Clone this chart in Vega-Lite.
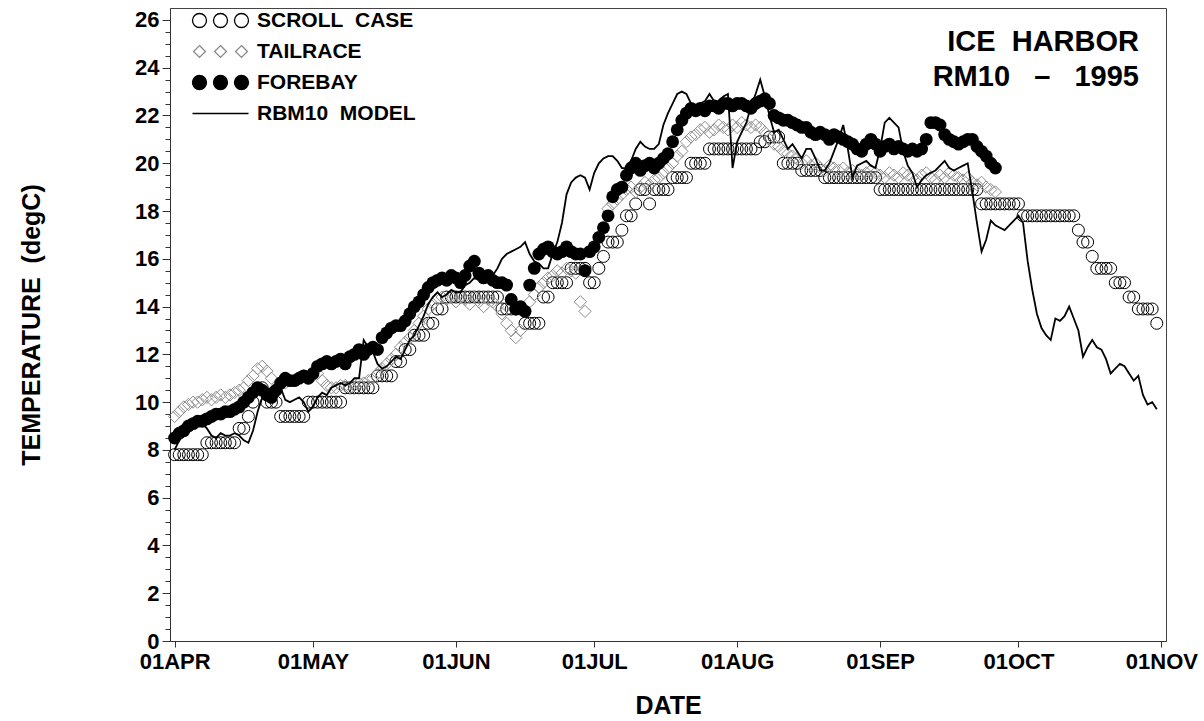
{
  "$schema": "https://vega.github.io/schema/vega-lite/v6.json",
  "autosize": "none",
  "width": 996,
  "height": 633,
  "padding": {"left": 170, "top": 8, "right": 38, "bottom": 80},
  "background": "white",
  "title": {
    "text": ["ICE\u00a0\u00a0HARBOR", "RM10\u00a0\u00a0\u00a0–\u00a0\u00a0\u00a01995"],
    "orient": "top",
    "anchor": "end",
    "frame": "group",
    "baseline": "top",
    "offset": -84,
    "dx": -27,
    "font": "Liberation Sans, Arial, sans-serif",
    "fontSize": 29,
    "fontWeight": "bold",
    "color": "black",
    "lineHeight": 35
  },
  "config": {
    "view": {"stroke": "#444", "strokeWidth": 1},
    "axis": {
      "labelFont": "Liberation Sans, Arial, sans-serif",
      "labelFontWeight": "bold",
      "labelColor": "black",
      "titleFont": "Liberation Sans, Arial, sans-serif",
      "titleFontWeight": "bold",
      "titleColor": "black",
      "domainColor": "#333",
      "tickColor": "#333",
      "grid": false
    },
    "legend": {
      "orient": "none",
      "legendX": 40,
      "legendY": 2,
      "padding": 0,
      "labelFont": "Liberation Sans, Arial, sans-serif",
      "labelFontWeight": "bold",
      "labelFontSize": 21,
      "labelColor": "black",
      "symbolSize": 196,
      "symbolStrokeWidth": 1.3,
      "labelOffset": 26,
      "rowPadding": 9,
      "labelLimit": 400
    }
  },
  "data": {"values": [
    {"date":"1995-04-01","sc":7.8,"tr":9.4,"fb":8.5,"md":8.0},
    {"date":"1995-04-02","sc":7.8,"tr":9.6,"fb":8.7,"md":8.4},
    {"date":"1995-04-03","sc":7.8,"tr":9.8,"fb":8.8,"md":8.7},
    {"date":"1995-04-04","sc":7.8,"tr":9.9,"fb":9.0,"md":8.9},
    {"date":"1995-04-05","sc":7.8,"tr":10.0,"fb":9.1,"md":9.0},
    {"date":"1995-04-06","sc":7.8,"tr":10.0,"fb":9.2,"md":9.1},
    {"date":"1995-04-07","sc":7.8,"tr":10.1,"fb":9.2,"md":9.1},
    {"date":"1995-04-08","sc":8.3,"tr":10.2,"fb":9.3,"md":8.9},
    {"date":"1995-04-09","sc":8.3,"tr":10.1,"fb":9.4,"md":8.6},
    {"date":"1995-04-10","sc":8.3,"tr":10.2,"fb":9.5,"md":8.5},
    {"date":"1995-04-11","sc":8.3,"tr":10.3,"fb":9.5,"md":8.7},
    {"date":"1995-04-12","sc":8.3,"tr":10.2,"fb":9.6,"md":8.6},
    {"date":"1995-04-13","sc":8.3,"tr":10.3,"fb":9.6,"md":8.6},
    {"date":"1995-04-14","sc":8.3,"tr":10.4,"fb":9.7,"md":8.7},
    {"date":"1995-04-15","sc":8.9,"tr":10.5,"fb":9.8,"md":8.6},
    {"date":"1995-04-16","sc":8.9,"tr":10.6,"fb":10.0,"md":8.4},
    {"date":"1995-04-17","sc":9.4,"tr":10.9,"fb":10.2,"md":8.3},
    {"date":"1995-04-18","sc":10.0,"tr":11.1,"fb":10.4,"md":8.8},
    {"date":"1995-04-19","sc":10.6,"tr":11.4,"fb":10.6,"md":9.6},
    {"date":"1995-04-20","sc":10.6,"tr":11.5,"fb":10.5,"md":10.2},
    {"date":"1995-04-21","sc":10.0,"tr":11.3,"fb":10.3,"md":10.5},
    {"date":"1995-04-22","sc":10.0,"tr":11.0,"fb":10.2,"md":10.6},
    {"date":"1995-04-23","sc":10.0,"tr":10.6,"fb":10.5,"md":10.4},
    {"date":"1995-04-24","sc":9.4,"tr":10.7,"fb":10.8,"md":10.6},
    {"date":"1995-04-25","sc":9.4,"tr":10.8,"fb":11.0,"md":10.1},
    {"date":"1995-04-26","sc":9.4,"tr":10.9,"fb":10.9,"md":10.0},
    {"date":"1995-04-27","sc":9.4,"tr":10.9,"fb":10.9,"md":10.1},
    {"date":"1995-04-28","sc":9.4,"tr":11.0,"fb":11.0,"md":10.2},
    {"date":"1995-04-29","sc":9.4,"tr":11.1,"fb":11.1,"md":10.0},
    {"date":"1995-04-30","sc":10.0,"tr":11.0,"fb":11.0,"md":9.6},
    {"date":"1995-05-01","sc":10.0,"tr":11.1,"fb":11.2,"md":9.8},
    {"date":"1995-05-02","sc":10.0,"tr":11.2,"fb":11.5,"md":10.2},
    {"date":"1995-05-03","sc":10.0,"tr":10.9,"fb":11.6,"md":10.4},
    {"date":"1995-05-04","sc":10.0,"tr":10.7,"fb":11.7,"md":10.3},
    {"date":"1995-05-05","sc":10.0,"tr":10.6,"fb":11.6,"md":10.6},
    {"date":"1995-05-06","sc":10.0,"tr":10.6,"fb":11.7,"md":10.7},
    {"date":"1995-05-07","sc":10.0,"tr":10.7,"fb":11.8,"md":10.8},
    {"date":"1995-05-08","sc":10.6,"tr":10.7,"fb":11.6,"md":10.7},
    {"date":"1995-05-09","sc":10.6,"tr":10.6,"fb":11.9,"md":10.8},
    {"date":"1995-05-10","sc":10.6,"tr":10.7,"fb":12.0,"md":11.0},
    {"date":"1995-05-11","sc":10.6,"tr":10.8,"fb":12.2,"md":11.0},
    {"date":"1995-05-12","sc":10.6,"tr":10.8,"fb":12.0,"md":12.6},
    {"date":"1995-05-13","sc":10.6,"tr":10.9,"fb":12.2,"md":12.3},
    {"date":"1995-05-14","sc":10.6,"tr":11.0,"fb":12.3,"md":12.1},
    {"date":"1995-05-15","sc":11.1,"tr":11.2,"fb":12.2,"md":11.6},
    {"date":"1995-05-16","sc":11.1,"tr":11.4,"fb":12.7,"md":11.4},
    {"date":"1995-05-17","sc":11.1,"tr":11.6,"fb":12.9,"md":11.5},
    {"date":"1995-05-18","sc":11.1,"tr":11.8,"fb":13.1,"md":11.7},
    {"date":"1995-05-19","sc":11.7,"tr":12.0,"fb":13.2,"md":11.9},
    {"date":"1995-05-20","sc":11.7,"tr":12.3,"fb":13.2,"md":11.8},
    {"date":"1995-05-21","sc":12.2,"tr":12.5,"fb":13.4,"md":12.2},
    {"date":"1995-05-22","sc":12.2,"tr":12.7,"fb":13.7,"md":12.6},
    {"date":"1995-05-23","sc":12.8,"tr":13.0,"fb":14.0,"md":12.8},
    {"date":"1995-05-24","sc":12.8,"tr":13.3,"fb":14.2,"md":13.2},
    {"date":"1995-05-25","sc":12.8,"tr":13.6,"fb":14.5,"md":13.6},
    {"date":"1995-05-26","sc":13.3,"tr":13.9,"fb":14.8,"md":14.1},
    {"date":"1995-05-27","sc":13.3,"tr":14.1,"fb":15.0,"md":14.4},
    {"date":"1995-05-28","sc":13.9,"tr":14.3,"fb":15.1,"md":14.6},
    {"date":"1995-05-29","sc":13.9,"tr":14.4,"fb":15.2,"md":14.4},
    {"date":"1995-05-30","sc":14.4,"tr":14.3,"fb":15.1,"md":14.5},
    {"date":"1995-05-31","sc":14.4,"tr":14.4,"fb":15.3,"md":14.7},
    {"date":"1995-06-01","sc":14.4,"tr":14.2,"fb":15.2,"md":14.6},
    {"date":"1995-06-02","sc":14.4,"tr":14.4,"fb":15.0,"md":14.6},
    {"date":"1995-06-03","sc":14.4,"tr":14.3,"fb":15.3,"md":14.9},
    {"date":"1995-06-04","sc":14.4,"tr":14.1,"fb":15.7,"md":15.0},
    {"date":"1995-06-05","sc":14.4,"tr":14.4,"fb":15.9,"md":15.2},
    {"date":"1995-06-06","sc":14.4,"tr":14.2,"fb":15.4,"md":15.1},
    {"date":"1995-06-07","sc":14.4,"tr":14.0,"fb":15.2,"md":15.2},
    {"date":"1995-06-08","sc":14.4,"tr":14.3,"fb":15.3,"md":15.1},
    {"date":"1995-06-09","sc":14.4,"tr":14.2,"fb":15.1,"md":15.3},
    {"date":"1995-06-10","sc":14.4,"tr":14.0,"fb":15.0,"md":15.6},
    {"date":"1995-06-11","sc":13.9,"tr":13.7,"fb":15.0,"md":16.0},
    {"date":"1995-06-12","sc":13.9,"tr":13.3,"fb":14.9,"md":16.2},
    {"date":"1995-06-13","sc":13.9,"tr":13.0,"fb":14.3,"md":16.3},
    {"date":"1995-06-14","sc":13.9,"tr":12.7,"fb":13.9,"md":16.4},
    {"date":"1995-06-15","sc":13.9,"tr":13.0,"fb":14.0,"md":16.5},
    {"date":"1995-06-16","sc":13.3,"tr":13.8,"fb":13.8,"md":16.7},
    {"date":"1995-06-17","sc":13.3,"tr":14.2,"fb":14.9,"md":16.2},
    {"date":"1995-06-18","sc":13.3,"tr":14.5,"fb":15.6,"md":15.9},
    {"date":"1995-06-19","sc":13.3,"tr":14.8,"fb":16.2,"md":15.8},
    {"date":"1995-06-20","sc":14.4,"tr":15.0,"fb":16.4,"md":15.6},
    {"date":"1995-06-21","sc":14.4,"tr":15.2,"fb":16.5,"md":15.6},
    {"date":"1995-06-22","sc":15.0,"tr":15.3,"fb":16.3,"md":16.2},
    {"date":"1995-06-23","sc":15.0,"tr":15.5,"fb":16.2,"md":16.7},
    {"date":"1995-06-24","sc":15.0,"tr":15.4,"fb":16.3,"md":17.5},
    {"date":"1995-06-25","sc":15.0,"tr":15.6,"fb":16.5,"md":18.7},
    {"date":"1995-06-26","sc":15.6,"tr":15.5,"fb":16.3,"md":19.2},
    {"date":"1995-06-27","sc":15.6,"tr":15.4,"fb":16.2,"md":19.4},
    {"date":"1995-06-28","sc":15.6,"tr":14.2,"fb":16.2,"md":19.5},
    {"date":"1995-06-29","sc":15.6,"tr":13.8,"fb":15.5,"md":19.4},
    {"date":"1995-06-30","sc":15.0,"fb":16.3,"md":18.9},
    {"date":"1995-07-01","sc":15.0,"fb":16.5,"md":19.6},
    {"date":"1995-07-02","sc":15.6,"fb":16.9,"md":20.0},
    {"date":"1995-07-03","sc":16.1,"fb":17.3,"md":20.2},
    {"date":"1995-07-04","sc":16.7,"tr":18.1,"fb":17.8,"md":20.3},
    {"date":"1995-07-05","sc":16.7,"tr":18.3,"fb":18.6,"md":20.3},
    {"date":"1995-07-06","sc":16.7,"tr":18.5,"fb":18.9,"md":20.1},
    {"date":"1995-07-07","sc":17.2,"tr":18.7,"fb":19.0,"md":19.8},
    {"date":"1995-07-08","sc":17.8,"tr":18.9,"fb":19.5,"md":19.8},
    {"date":"1995-07-09","sc":17.8,"tr":19.0,"fb":19.8,"md":20.1},
    {"date":"1995-07-10","sc":18.3,"tr":18.8,"fb":20.0,"md":20.6},
    {"date":"1995-07-11","sc":18.9,"tr":19.0,"fb":19.7,"md":20.9},
    {"date":"1995-07-12","sc":18.9,"tr":19.2,"fb":19.9,"md":20.7},
    {"date":"1995-07-13","sc":18.3,"tr":19.1,"fb":20.0,"md":20.6},
    {"date":"1995-07-14","sc":18.9,"tr":19.3,"fb":19.8,"md":20.6},
    {"date":"1995-07-15","sc":18.9,"tr":19.4,"fb":20.0,"md":20.8},
    {"date":"1995-07-16","sc":18.9,"tr":19.6,"fb":20.2,"md":21.6},
    {"date":"1995-07-17","sc":18.9,"tr":19.8,"fb":20.4,"md":22.1},
    {"date":"1995-07-18","sc":19.4,"tr":20.0,"fb":20.9,"md":22.5},
    {"date":"1995-07-19","sc":19.4,"tr":20.3,"fb":21.4,"md":22.9},
    {"date":"1995-07-20","sc":19.4,"tr":20.5,"fb":21.8,"md":23.0},
    {"date":"1995-07-21","sc":19.4,"tr":20.9,"fb":22.1,"md":22.9},
    {"date":"1995-07-22","sc":20.0,"tr":21.1,"fb":22.3,"md":22.5},
    {"date":"1995-07-23","sc":20.0,"tr":21.2,"fb":22.2,"md":22.4},
    {"date":"1995-07-24","sc":20.0,"tr":21.4,"fb":22.3,"md":22.5},
    {"date":"1995-07-25","sc":20.0,"tr":21.5,"fb":22.2,"md":22.6},
    {"date":"1995-07-26","sc":20.6,"tr":21.3,"fb":22.4,"md":22.9},
    {"date":"1995-07-27","sc":20.6,"tr":21.4,"fb":22.4,"md":22.6},
    {"date":"1995-07-28","sc":20.6,"tr":21.6,"fb":22.3,"md":22.6},
    {"date":"1995-07-29","sc":20.6,"tr":21.5,"fb":22.5,"md":22.8},
    {"date":"1995-07-30","sc":20.6,"tr":21.4,"fb":22.5,"md":22.9},
    {"date":"1995-07-31","sc":20.6,"tr":21.6,"fb":22.4,"md":19.8},
    {"date":"1995-08-01","sc":20.6,"tr":21.5,"fb":22.5,"md":20.9},
    {"date":"1995-08-02","sc":20.6,"tr":21.7,"fb":22.5,"md":21.3},
    {"date":"1995-08-03","sc":20.6,"tr":21.6,"fb":22.4,"md":21.7},
    {"date":"1995-08-04","sc":20.6,"tr":21.5,"fb":22.3,"md":22.4},
    {"date":"1995-08-05","sc":20.6,"tr":21.6,"fb":22.5,"md":22.9},
    {"date":"1995-08-06","sc":20.9,"tr":21.5,"fb":22.6,"md":23.5},
    {"date":"1995-08-07","sc":20.9,"tr":21.3,"fb":22.7,"md":22.8},
    {"date":"1995-08-08","sc":21.1,"tr":21.0,"fb":22.5,"md":22.0},
    {"date":"1995-08-09","sc":21.1,"tr":20.8,"fb":22.0,"md":21.3},
    {"date":"1995-08-10","sc":21.1,"tr":20.7,"fb":21.9,"md":21.4},
    {"date":"1995-08-11","sc":20.0,"tr":20.5,"fb":21.8,"md":21.0},
    {"date":"1995-08-12","sc":20.0,"tr":20.4,"fb":21.8,"md":20.6},
    {"date":"1995-08-13","sc":20.0,"tr":20.3,"fb":21.7,"md":20.8},
    {"date":"1995-08-14","sc":20.0,"tr":20.2,"fb":21.6,"md":20.5},
    {"date":"1995-08-15","sc":19.7,"tr":20.0,"fb":21.5,"md":20.2},
    {"date":"1995-08-16","sc":19.7,"tr":20.1,"fb":21.5,"md":20.6},
    {"date":"1995-08-17","sc":19.7,"tr":19.9,"fb":21.3,"md":20.6},
    {"date":"1995-08-18","sc":19.7,"tr":20.0,"fb":21.2,"md":20.2},
    {"date":"1995-08-19","sc":19.7,"tr":19.8,"fb":21.3,"md":19.7},
    {"date":"1995-08-20","sc":19.4,"tr":19.7,"fb":21.2,"md":19.7},
    {"date":"1995-08-21","sc":19.4,"tr":19.9,"fb":21.0,"md":20.0},
    {"date":"1995-08-22","sc":19.4,"tr":19.8,"fb":21.2,"md":20.5},
    {"date":"1995-08-23","sc":19.4,"tr":19.7,"fb":21.1,"md":21.0},
    {"date":"1995-08-24","sc":19.4,"tr":19.8,"fb":21.0,"md":21.6},
    {"date":"1995-08-25","sc":19.4,"tr":19.6,"fb":20.9,"md":20.6},
    {"date":"1995-08-26","sc":19.4,"tr":19.7,"fb":20.8,"md":19.4},
    {"date":"1995-08-27","sc":19.4,"tr":19.6,"fb":20.6,"md":19.9},
    {"date":"1995-08-28","sc":19.4,"tr":19.5,"fb":20.5,"md":20.0},
    {"date":"1995-08-29","sc":19.4,"tr":19.6,"fb":20.8,"md":20.1},
    {"date":"1995-08-30","sc":19.4,"tr":19.7,"fb":21.0,"md":19.9},
    {"date":"1995-08-31","sc":19.4,"tr":19.6,"fb":20.8,"md":19.8},
    {"date":"1995-09-01","sc":18.9,"tr":19.5,"fb":20.5,"md":20.6},
    {"date":"1995-09-02","sc":18.9,"tr":19.4,"fb":20.7,"md":21.7},
    {"date":"1995-09-03","sc":18.9,"tr":19.6,"fb":20.8,"md":21.9},
    {"date":"1995-09-04","sc":18.9,"tr":19.5,"fb":20.6,"md":21.7},
    {"date":"1995-09-05","sc":18.9,"tr":19.4,"fb":20.7,"md":21.5},
    {"date":"1995-09-06","sc":18.9,"tr":19.6,"fb":20.6,"md":20.5},
    {"date":"1995-09-07","sc":18.9,"tr":19.5,"fb":20.5,"md":19.9},
    {"date":"1995-09-08","sc":18.9,"tr":19.4,"fb":20.6,"md":19.6},
    {"date":"1995-09-09","sc":18.9,"tr":19.3,"fb":20.5,"md":19.0},
    {"date":"1995-09-10","sc":18.9,"tr":19.5,"fb":20.6,"md":19.3},
    {"date":"1995-09-11","sc":18.9,"tr":19.6,"fb":21.0,"md":19.5},
    {"date":"1995-09-12","sc":18.9,"tr":19.4,"fb":21.7,"md":19.6},
    {"date":"1995-09-13","sc":18.9,"tr":19.3,"fb":21.7,"md":19.7},
    {"date":"1995-09-14","sc":18.9,"tr":19.5,"fb":21.6,"md":19.9},
    {"date":"1995-09-15","sc":18.9,"tr":19.4,"fb":21.2,"md":20.1},
    {"date":"1995-09-16","sc":18.9,"tr":19.6,"fb":21.0,"md":19.8},
    {"date":"1995-09-17","sc":18.9,"tr":19.5,"fb":20.9,"md":19.7},
    {"date":"1995-09-18","sc":18.9,"tr":19.4,"fb":20.8,"md":19.8},
    {"date":"1995-09-19","sc":18.9,"tr":19.3,"fb":20.9,"md":19.9},
    {"date":"1995-09-20","sc":18.9,"tr":19.4,"fb":21.0,"md":20.0},
    {"date":"1995-09-21","sc":18.9,"tr":19.2,"fb":21.0,"md":18.8},
    {"date":"1995-09-22","sc":18.9,"tr":19.1,"fb":20.7,"md":17.5},
    {"date":"1995-09-23","sc":18.3,"tr":19.2,"fb":20.5,"md":16.3},
    {"date":"1995-09-24","sc":18.3,"tr":19.0,"fb":20.3,"md":16.8},
    {"date":"1995-09-25","sc":18.3,"tr":18.9,"fb":20.0,"md":17.6},
    {"date":"1995-09-26","sc":18.3,"tr":18.8,"fb":19.8,"md":17.4},
    {"date":"1995-09-27","sc":18.3,"md":17.3},
    {"date":"1995-09-28","sc":18.3,"md":17.2},
    {"date":"1995-09-29","sc":18.3,"md":17.4},
    {"date":"1995-09-30","sc":18.3,"md":17.6},
    {"date":"1995-10-01","sc":18.3,"md":17.8},
    {"date":"1995-10-02","sc":17.8,"md":17.5},
    {"date":"1995-10-03","sc":17.8,"md":15.9},
    {"date":"1995-10-04","sc":17.8,"md":14.7},
    {"date":"1995-10-05","sc":17.8,"md":13.7},
    {"date":"1995-10-06","sc":17.8,"md":13.1},
    {"date":"1995-10-07","sc":17.8,"md":12.8},
    {"date":"1995-10-08","sc":17.8,"md":12.6},
    {"date":"1995-10-09","sc":17.8,"md":13.5},
    {"date":"1995-10-10","sc":17.8,"md":13.4},
    {"date":"1995-10-11","sc":17.8,"md":13.6},
    {"date":"1995-10-12","sc":17.8,"md":14.0},
    {"date":"1995-10-13","sc":17.8,"md":13.5},
    {"date":"1995-10-14","sc":17.2,"md":13.0},
    {"date":"1995-10-15","sc":16.7,"md":11.9},
    {"date":"1995-10-16","sc":16.7,"md":12.3},
    {"date":"1995-10-17","sc":16.1,"md":12.6},
    {"date":"1995-10-18","sc":15.6,"md":12.3},
    {"date":"1995-10-19","sc":15.6,"md":12.2},
    {"date":"1995-10-20","sc":15.6,"md":11.8},
    {"date":"1995-10-21","sc":15.6,"md":11.2},
    {"date":"1995-10-22","sc":15.0,"md":11.4},
    {"date":"1995-10-23","sc":15.0,"md":11.6},
    {"date":"1995-10-24","sc":15.0,"md":11.5},
    {"date":"1995-10-25","sc":14.4,"md":11.2},
    {"date":"1995-10-26","sc":14.4,"md":10.9},
    {"date":"1995-10-27","sc":13.9,"md":11.1},
    {"date":"1995-10-28","sc":13.9,"md":10.3},
    {"date":"1995-10-29","sc":13.9,"md":9.9},
    {"date":"1995-10-30","sc":13.9,"md":10.0},
    {"date":"1995-10-31","sc":13.3,"md":9.7}
  ]},
  "encoding": {
    "x": {
      "field": "date",
      "type": "temporal",
      "scale": {
        "type": "utc",
        "domain": [
          {"year": 1995, "month": 3, "date": 31, "utc": true},
          {"year": 1995, "month": 11, "date": 2, "utc": true}
        ],
        "nice": false
      },
      "axis": {
        "values": [
          {"year": 1995, "month": 4, "date": 1, "utc": true},
          {"year": 1995, "month": 5, "date": 1, "utc": true},
          {"year": 1995, "month": 6, "date": 1, "utc": true},
          {"year": 1995, "month": 7, "date": 1, "utc": true},
          {"year": 1995, "month": 8, "date": 1, "utc": true},
          {"year": 1995, "month": 9, "date": 1, "utc": true},
          {"year": 1995, "month": 10, "date": 1, "utc": true},
          {"year": 1995, "month": 11, "date": 1, "utc": true}
        ],
        "labelExpr": "upper(utcFormat(datum.value, '%d%b'))",
        "labelFontSize": 22,
        "labelPadding": 4,
        "labelFlush": false,
        "labelOverlap": false,
        "tickSize": 6,
        "title": "DATE",
        "titleFontSize": 25,
        "titlePadding": 21
      }
    }
  },
  "layer": [
    {
      "mark": {"type": "point", "shape": "circle", "filled": false, "size": 144, "stroke": "black", "strokeWidth": 1, "opacity": 1},
      "encoding": {
        "y": {
          "field": "sc", "type": "quantitative",
          "scale": {"domain": [0, 26.5], "nice": false, "zero": true},
          "axis": {
            "orient": "left",
            "values": [0, 2, 4, 6, 8, 10, 12, 14, 16, 18, 20, 22, 24, 26],
            "labelFontSize": 22,
            "labelPadding": 3,
            "tickSize": 8,
            "title": "TEMPERATURE\u00a0\u00a0(degC)",
            "titleFontSize": 25,
            "titlePadding": 90
          }
        }
      }
    },
    {
      "mark": {"type": "point", "shape": "diamond", "filled": false, "size": 150, "stroke": "#8a8a8a", "strokeWidth": 1, "opacity": 1},
      "encoding": {
        "y": {"field": "tr", "type": "quantitative", "scale": {"domain": [0, 26.5], "nice": false, "zero": true}, "axis": null}
      }
    },
    {
      "mark": {"type": "point", "shape": "circle", "filled": true, "size": 165, "color": "black", "opacity": 1},
      "encoding": {
        "y": {"field": "fb", "type": "quantitative", "scale": {"domain": [0, 26.5], "nice": false, "zero": true}, "axis": null}
      }
    },
    {
      "mark": {"type": "line", "color": "black", "strokeWidth": 1.8},
      "encoding": {
        "y": {"field": "md", "type": "quantitative", "scale": {"domain": [0, 26.5], "nice": false, "zero": true}, "axis": null}
      }
    },
    {
      "transform": [{"filter": "false"}],
      "mark": {"type": "point", "opacity": 1, "strokeWidth": 1.3},
      "encoding": {
        "y": {
          "field": "fb", "type": "quantitative",
          "scale": {"domain": [0, 26.5], "nice": false, "zero": true},
          "axis": {
            "orient": "left",
            "values": [0.5, 1, 1.5, 2.5, 3, 3.5, 4.5, 5, 5.5, 6.5, 7, 7.5, 8.5, 9, 9.5, 10.5, 11, 11.5, 12.5, 13, 13.5, 14.5, 15, 15.5, 16.5, 17, 17.5, 18.5, 19, 19.5, 20.5, 21, 21.5, 22.5, 23, 23.5, 24.5, 25, 25.5],
            "labels": false,
            "domain": false,
            "tickSize": 5,
            "title": null
          }
        },
        "shape": {
          "field": "series", "type": "nominal", "title": null,
          "scale": {
            "domain": ["SCROLL\u00a0\u00a0CASE", "TAILRACE", "FOREBAY", "RBM10\u00a0\u00a0MODEL"],
            "range": [
              "M-4 0A1 1 0 1 1 -2 0A1 1 0 1 1 -4 0ZM-1 0A1 1 0 1 1 1 0A1 1 0 1 1 -1 0ZM2 0A1 1 0 1 1 4 0A1 1 0 1 1 2 0Z",
              "M-3 -0.85L-2.15 0L-3 0.85L-3.85 0ZM0 -0.85L0.85 0L0 0.85L-0.85 0ZM3 -0.85L3.85 0L3 0.85L2.15 0Z",
              "M-4 0A1 1 0 1 1 -2 0A1 1 0 1 1 -4 0ZM-1 0A1 1 0 1 1 1 0A1 1 0 1 1 -1 0ZM2 0A1 1 0 1 1 4 0A1 1 0 1 1 2 0Z",
              "M-4 0L4 0"
            ]
          }
        },
        "fill": {
          "field": "series", "type": "nominal", "title": null,
          "scale": {
            "domain": ["SCROLL\u00a0\u00a0CASE", "TAILRACE", "FOREBAY", "RBM10\u00a0\u00a0MODEL"],
            "range": ["transparent", "transparent", "black", "transparent"]
          }
        },
        "stroke": {
          "field": "series", "type": "nominal", "title": null,
          "scale": {
            "domain": ["SCROLL\u00a0\u00a0CASE", "TAILRACE", "FOREBAY", "RBM10\u00a0\u00a0MODEL"],
            "range": ["black", "#8a8a8a", "black", "black"]
          }
        }
      }
    }
  ],
  "resolve": {"axis": {"y": "independent"}}
}
